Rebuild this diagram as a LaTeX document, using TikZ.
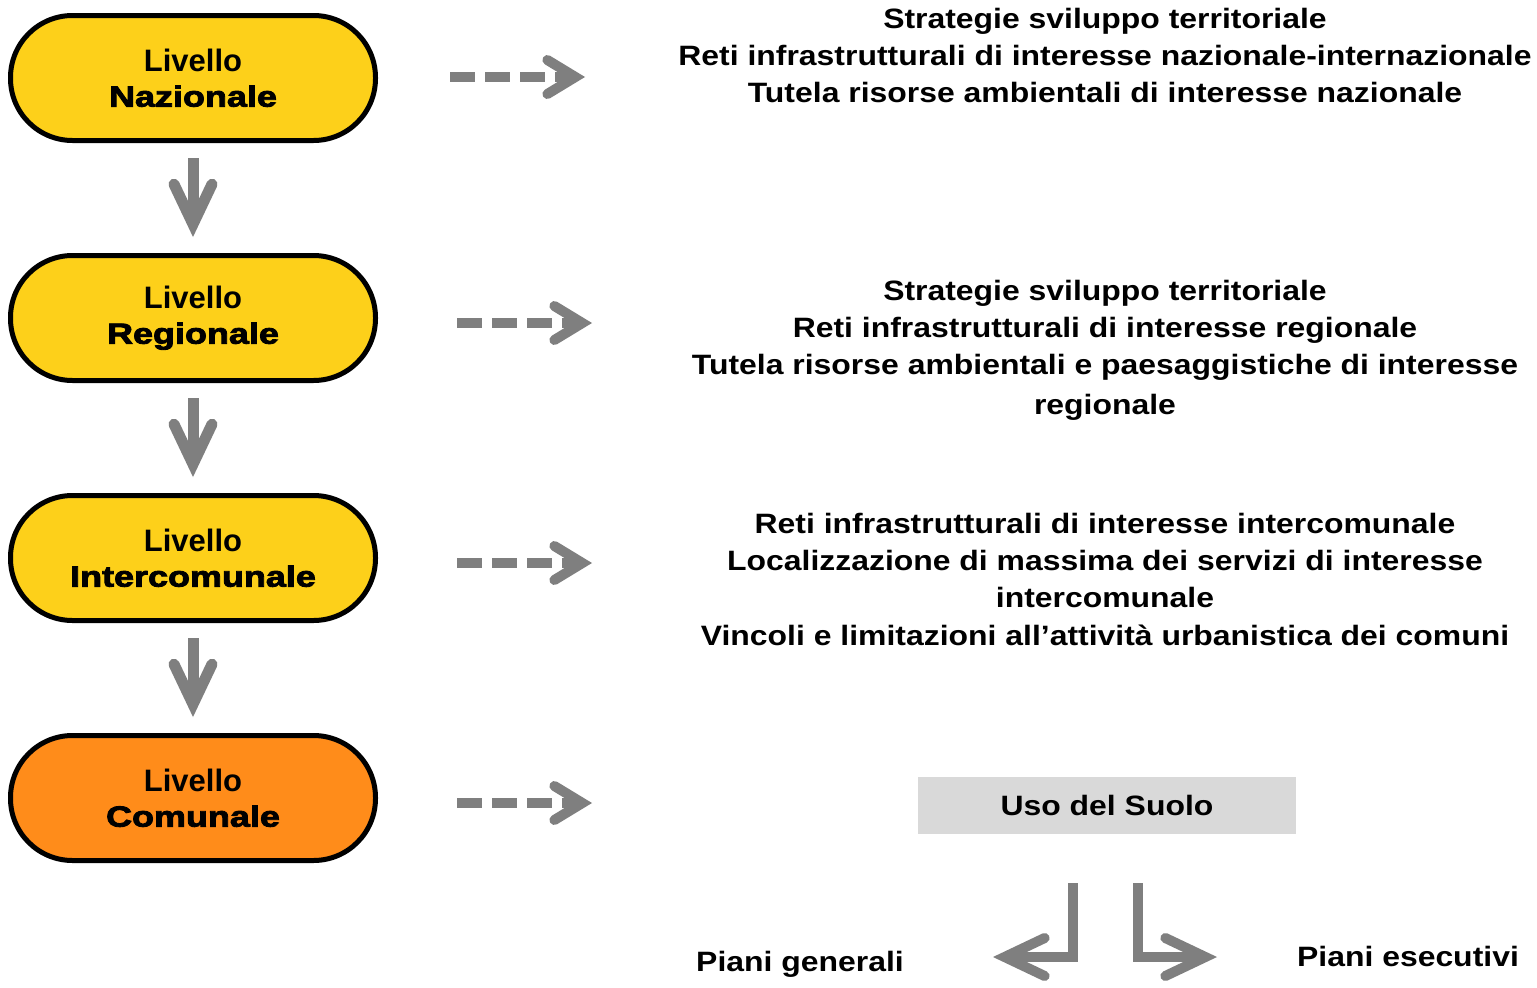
\documentclass[tikz,border=0pt]{standalone}
\usepackage{fontspec}
\setmainfont{Liberation Sans}
\newfontfamily\heavy{Liberation Sans}[FakeBold=3,FakeStretch=1.24]
\newfontfamily\wide{Liberation Sans}[FakeStretch=1.14]
\usetikzlibrary{arrows.meta}
\definecolor{lvyellow}{RGB}{253,208,26}
\definecolor{lvorange}{RGB}{255,140,26}
\definecolor{arrgray}{RGB}{127,127,127}
\definecolor{boxgray}{RGB}{217,217,217}
\begin{document}
\begin{tikzpicture}[x=1pt,y=-1pt,
  levelbox/.style={draw=black, line width=5pt, rounded corners=62pt,
    minimum width=365pt, minimum height=125pt, inner sep=0pt, align=center, fill=lvyellow,
    font=\fontsize{31}{37}\selectfont\bfseries},
  desc/.style={align=center, font=\wide\fontsize{28}{37}\selectfont\bfseries, inner sep=0pt},
  plain/.style={font=\wide\fontsize{28}{34}\selectfont\bfseries, inner sep=0pt},
  dasharrow/.style={draw=arrgray, line width=10pt, dash pattern=on 25pt off 10pt,
    -{Straight Barb[length=28pt,width=34pt,line cap=round,line join=miter]}},
  varrow/.style={draw=arrgray, line width=11pt,
    -{Straight Barb[length=40pt,width=38pt,line cap=round,line join=miter]},
    shorten <=15pt, shorten >=16pt},
  barrow/.style={draw=arrgray, line width=10pt,
    -{Straight Barb[length=40pt,width=38pt,line cap=round,line join=miter]}}
]
\useasboundingbox[fill=white] (0,0) rectangle (1537,988);

\newcommand{\lvtext}[1]{\raisebox{-2pt}{Livello}\\{\heavy\bfseries\fontsize{29}{37}\selectfont #1}}

\node[levelbox] (naz) at (193,78) {\lvtext{Nazionale}};
\node[levelbox] (reg) at (193,318) {\lvtext{Regionale}};
\node[levelbox] (int) at (193,558) {\lvtext{Intercomunale}};
\node[levelbox, fill=lvorange] (com) at (193,798) {\lvtext{Comunale}};

\draw[varrow] (naz) -- (reg);
\draw[varrow] (reg) -- (int);
\draw[varrow] (int) -- (com);

\coordinate (d1s) at (450,77);  \coordinate (d1e) at (585,77);
\coordinate (d2s) at (457,323); \coordinate (d2e) at (592,323);
\coordinate (d3s) at (457,563); \coordinate (d3e) at (592,563);
\coordinate (d4s) at (457,803); \coordinate (d4e) at (592,803);
\draw[dasharrow] (d1s) -- (d1e);
\draw[dasharrow] (d2s) -- (d2e);
\draw[dasharrow] (d3s) -- (d3e);
\draw[dasharrow] (d4s) -- (d4e);

\node[desc] (t1) at (1105,55) {Strategie sviluppo territoriale\\Reti infrastrutturali di interesse nazionale-internazionale\\Tutela risorse ambientali di interesse nazionale};
\node[desc] (t2) at (1105,350) {Strategie sviluppo territoriale\\Reti infrastrutturali di interesse regionale\\Tutela risorse ambientali e paesaggistiche di interesse\\[3pt]regionale};
\node[desc] (t3) at (1105,579) {Reti infrastrutturali di interesse intercomunale\\Localizzazione di massima dei servizi di interesse\\intercomunale\\[1pt]Vincoli e limitazioni all’attività urbanistica dei comuni};

\node[plain, fill=boxgray, minimum width=378pt, minimum height=57pt] (uso) at (1107,805.5) {Uso del Suolo};

\node[plain] (pg) at (800,964) {Piani generali};
\node[plain] (pe) at (1408,956) {Piani esecutivi};

\coordinate (bls) at (1073,883);   \coordinate (ble) at (993,957);
\coordinate (brs) at (1137.5,883); \coordinate (bre) at (1217,957);
\draw[barrow] (bls) |- (ble);
\draw[barrow] (brs) |- (bre);
\end{tikzpicture}
\end{document}
